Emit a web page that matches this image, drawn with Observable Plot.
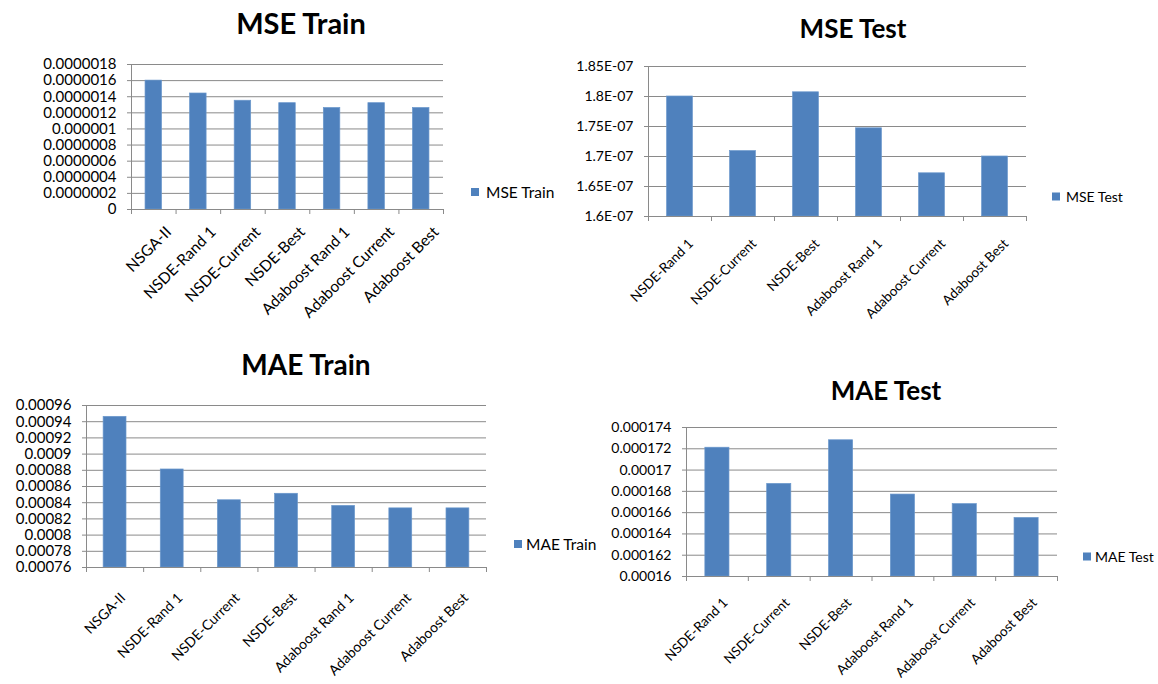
<!DOCTYPE html>
<html>
<head>
<meta charset="utf-8">
<script src="https://cdn.jsdelivr.net/npm/d3@7"></script>
<script src="https://cdn.jsdelivr.net/npm/@observablehq/plot@0.6"></script>
<style>
  html, body { margin: 0; padding: 0; background: #fff; }
  #board { position: relative; width: 1158px; height: 684px; overflow: hidden; background: #fff; font-family: Lato, "Open Sans", sans-serif; }
  .title { position: absolute; transform: translate(-50%, -50%); font-weight: 700; white-space: nowrap; line-height: 1; color: #000; }
  .legend { position: absolute; display: flex; align-items: center; transform: translateY(-50%); white-space: nowrap; color: #000; }
  .legend .swatch { width: 8px; height: 8px; background: #4F81BD; }
  .panel { position: absolute; }
</style>
</head>
<body>
<div id="board"></div>
<script>
// Methods compared on the training runs and on the test runs
const categoriesTrain = ["NSGA-II", "NSDE-Rand 1", "NSDE-Current", "NSDE-Best", "Adaboost Rand 1", "Adaboost Current", "Adaboost Best"];
const categoriesTest = ["NSDE-Rand 1", "NSDE-Current", "NSDE-Best", "Adaboost Rand 1", "Adaboost Current", "Adaboost Best"];

// Error values per method
const mseTrain = [1.60e-6, 1.44e-6, 1.35e-6, 1.32e-6, 1.26e-6, 1.32e-6, 1.26e-6];
const mseTest = [1.800e-7, 1.709e-7, 1.807e-7, 1.747e-7, 1.672e-7, 1.700e-7];
const maeTrain = [0.000946, 0.000881, 0.000843, 0.000851, 0.000836, 0.000833, 0.000833];
const maeTest = [0.0001721, 0.0001687, 0.0001728, 0.0001677, 0.0001668, 0.0001655];

// Value-axis ticks and their printed labels
const mseTrainTicks = [0, 2e-7, 4e-7, 6e-7, 8e-7, 1e-6, 1.2e-6, 1.4e-6, 1.6e-6, 1.8e-6];
const mseTrainTickLabels = ["0", "0.0000002", "0.0000004", "0.0000006", "0.0000008", "0.000001", "0.0000012", "0.0000014", "0.0000016", "0.0000018"];
const mseTestTicks = [1.6e-7, 1.65e-7, 1.7e-7, 1.75e-7, 1.8e-7, 1.85e-7];
const mseTestTickLabels = ["1.6E-07", "1.65E-07", "1.7E-07", "1.75E-07", "1.8E-07", "1.85E-07"];
const maeTrainTicks = [0.00076, 0.00078, 0.0008, 0.00082, 0.00084, 0.00086, 0.00088, 0.0009, 0.00092, 0.00094, 0.00096];
const maeTrainTickLabels = ["0.00076", "0.00078", "0.0008", "0.00082", "0.00084", "0.00086", "0.00088", "0.0009", "0.00092", "0.00094", "0.00096"];
const maeTestTicks = [0.00016, 0.000162, 0.000164, 0.000166, 0.000168, 0.00017, 0.000172, 0.000174];
const maeTestTickLabels = ["0.00016", "0.000162", "0.000164", "0.000166", "0.000168", "0.00017", "0.000172", "0.000174"];

const BAR = "#4F81BD";
const GRID = "#8a8a8a";
const board = document.getElementById("board");

function panel({title, titleSize, titleAt, series, categories, values, ticks, tickLabels, box, barShare,
                legendAt, legendGap, legendSize, yFont, xFont, labelPad, labelDx}) {
  const mL = 130, mR = 12, mT = 10, mB = 150;
  const plotW = box.x1 - box.x0, plotH = box.y1 - box.y0;
  const n = categories.length;
  const step = plotW / n;
  const pad = 1 - barShare;
  const data = categories.map((c, i) => ({category: c, value: values[i]}));
  const label = new Map(ticks.map((t, i) => [t, tickLabels[i]]));
  const lo = ticks[0], hi = ticks[ticks.length - 1];

  const chart = Plot.plot({
    width: plotW + mL + mR,
    height: plotH + mT + mB,
    marginLeft: mL, marginRight: mR, marginTop: mT, marginBottom: mB,
    style: {fontFamily: "Lato, 'Open Sans', sans-serif", fontSize: yFont + "px", color: "#000", background: "transparent"},
    x: {type: "band", domain: categories, paddingInner: pad, paddingOuter: pad / 2, align: 0.5, round: false, label: null},
    y: {domain: [lo, hi], label: null},
    marks: [
      Plot.gridY(ticks, {stroke: GRID, strokeOpacity: 1, strokeWidth: 1}),
      Plot.barY(data, {x: "category", y1: lo, y2: "value", fill: BAR, stroke: "#6a97cc", strokeWidth: 0.7}),
      Plot.frame({anchor: "left", stroke: GRID, strokeWidth: 1}),
      Plot.frame({anchor: "bottom", stroke: GRID, strokeWidth: 1}),
      // category separators below the baseline
      Plot.ruleX(categories, {x: d => d, dx: -step / 2, insetTop: plotH, insetBottom: -5, stroke: GRID}),
      Plot.ruleX(categories.slice(-1), {x: d => d, dx: step / 2, insetTop: plotH, insetBottom: -5, stroke: GRID}),
      Plot.axisY({ticks, tickFormat: d => label.get(d), tickSize: 4, tickPadding: 11, stroke: GRID, fill: "#000"}),
      Plot.axisX({tickSize: 0, tickRotate: -45, tickPadding: labelPad, dx: labelDx, fill: "#000", fontSize: xFont})
    ]
  });
  chart.classList.add("panel");
  chart.style.left = (box.x0 - mL) + "px";
  chart.style.top = (box.y0 - mT) + "px";
  board.appendChild(chart);

  const t = document.createElement("div");
  t.className = "title";
  t.textContent = title;
  t.style.fontSize = titleSize + "px";
  t.style.left = titleAt[0] + "px";
  t.style.top = titleAt[1] + "px";
  board.appendChild(t);

  const lg = document.createElement("div");
  lg.className = "legend";
  lg.style.left = legendAt[0] + "px";
  lg.style.top = legendAt[1] + "px";
  lg.style.fontSize = legendSize + "px";
  lg.innerHTML = `<span class="swatch"></span><span style="margin-left:${legendGap}px">${series}</span>`;
  board.appendChild(lg);
}

panel({title: "MSE Train", titleSize: 29, titleAt: [301, 22], series: "MSE Train",
  categories: categoriesTrain, values: mseTrain, ticks: mseTrainTicks, tickLabels: mseTrainTickLabels,
  box: {x0: 131, x1: 443, y0: 64, y1: 209}, barShare: 0.37,
  legendAt: [471, 192], legendGap: 7, legendSize: 15.5, yFont: 15, xFont: 15.5, labelPad: 20, labelDx: 15});

panel({title: "MSE Test", titleSize: 26, titleAt: [853, 28], series: "MSE Test",
  categories: categoriesTest, values: mseTest, ticks: mseTestTicks, tickLabels: mseTestTickLabels,
  box: {x0: 648, x1: 1026, y0: 66, y1: 216}, barShare: 0.41,
  legendAt: [1052, 196], legendGap: 6, legendSize: 14, yFont: 14, xFont: 13.5, labelPad: 25, labelDx: 11});

panel({title: "MAE Train", titleSize: 28, titleAt: [306, 364], series: "MAE Train",
  categories: categoriesTrain, values: maeTrain, ticks: maeTrainTicks, tickLabels: maeTrainTickLabels,
  box: {x0: 86, x1: 486, y0: 405, y1: 567}, barShare: 0.4,
  legendAt: [514, 544], legendGap: 4, legendSize: 15.5, yFont: 15, xFont: 14, labelPad: 28, labelDx: 8});

panel({title: "MAE Test", titleSize: 26, titleAt: [886, 390], series: "MAE Test",
  categories: categoriesTest, values: maeTest, ticks: maeTestTicks, tickLabels: maeTestTickLabels,
  box: {x0: 686, x1: 1057, y0: 427, y1: 576}, barShare: 0.39,
  legendAt: [1083, 556], legendGap: 4, legendSize: 14, yFont: 14, xFont: 13.5, labelPad: 24, labelDx: 8});
</script>
</body>
</html>
